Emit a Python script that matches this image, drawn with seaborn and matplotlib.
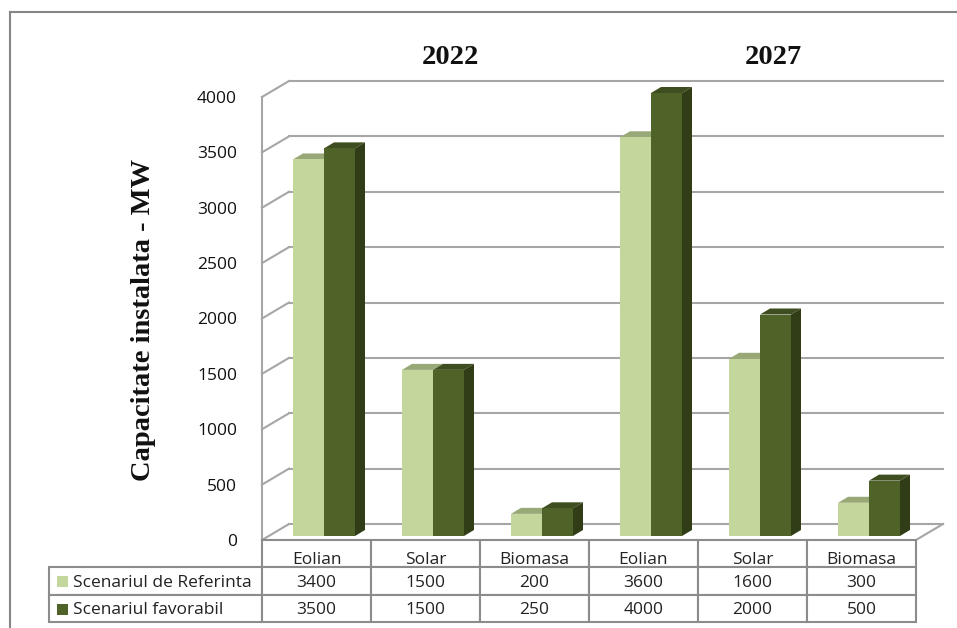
import matplotlib
matplotlib.use("Agg")
import matplotlib.pyplot as plt
import seaborn as sns
import pandas as pd
from matplotlib.patches import Polygon, Rectangle
from matplotlib.lines import Line2D
from matplotlib.transforms import Affine2D

groups = ["2022", "2022", "2022", "2027", "2027", "2027"]
categories = ["Eolian", "Solar", "Biomasa", "Eolian", "Solar", "Biomasa"]
referinta = [3400, 1500, 200, 3600, 1600, 300]
favorabil = [3500, 1500, 250, 4000, 2000, 500]
series_names = ["Scenariul de Referinta", "Scenariul favorabil"]
colors = ["#c3d69b", "#4f6228"]
tops = ["#98a876", "#3f4e20"]
sides = [None, "#313d17"]
ylabel = "Capacitate instalata - MW"
yticks = [0, 500, 1000, 1500, 2000, 2500, 3000, 3500, 4000]

W, H = 957, 628
fig = plt.figure(figsize=(W / 100, H / 100), dpi=100)
L, R, B, T = 262, 916, 540, 97
ax = fig.add_axes([L / W, 1 - B / H, (R - L) / W, (B - T) / H])

df = pd.DataFrame({
    "pos": list(range(6)) * 2,
    "val": referinta + favorabil,
    "ser": [series_names[0]] * 6 + [series_names[1]] * 6,
})
sns.barplot(data=df, x="pos", y="val", hue="ser", palette=colors, width=62 / 109,
            saturation=1, legend=False, ax=ax, zorder=3, dodge=True)
ax.set_xlim(-0.5, 5.5)
ax.set_ylim(0, 4000)

for s in ax.spines.values():
    s.set_visible(False)
ax.patch.set_visible(False)
ax.set_xticks([])
ax.set_xlabel("")
ax.set_ylabel("")
ax.set_yticks(yticks)
ax.set_yticklabels([str(v) for v in yticks], fontsize=12.5, family="Open Sans", color="#111111")
ax.tick_params(axis="y", length=0, pad=18)

GRID = "#a6a6a6"
DX, DY = 27, 16
px_back = ax.transData + Affine2D().translate(DX, DY)
for v in yticks:
    ax.add_line(Line2D([-0.5, 5.5], [v, v], transform=px_back, color=GRID, lw=1.5, clip_on=False, zorder=1))
    # slanted wall segment, from the front edge to the back wall
    p0 = ax.transData.transform((-0.5, v))
    seg = Line2D([p0[0], p0[0] + DX], [p0[1], p0[1] + DY], transform=None, color=GRID, lw=1.5, clip_on=False, zorder=1)
    ax.add_artist(seg)
p0 = ax.transData.transform((-0.5, 0))
p1 = ax.transData.transform((-0.5, 4000))
ax.add_artist(Line2D([p0[0], p1[0]], [p0[1], p1[1]], transform=None, color=GRID, lw=1.5, clip_on=False, zorder=1))
p2 = ax.transData.transform((5.5, 0))
ax.add_artist(Line2D([p2[0], p2[0] + DX], [p2[1], p2[1] + DY], transform=None, color=GRID, lw=1.5, clip_on=False, zorder=1))

# extrude each bar: front face shifted a little into the floor, with top and side faces
SX, SY = 7.5, 4
BDX, BDY = 10, 6
for i, bar in enumerate(ax.patches):
    s = 0 if i < 6 else 1
    x0, y0 = bar.get_x(), bar.get_y()
    x1, y1 = x0 + bar.get_width(), y0 + bar.get_height()
    a = ax.transData.transform((x0, y0)) + (SX, SY)
    b = ax.transData.transform((x1, y1)) + (SX, SY)
    bar.set_transform(ax.transData + Affine2D().translate(SX, SY))
    bar.set_clip_on(False)
    bar.set_zorder(4 + 2 * s + 2 * i / 100)
    top = Polygon([(a[0], b[1]), (b[0], b[1]), (b[0] + BDX, b[1] + BDY), (a[0] + BDX, b[1] + BDY)],
                  closed=True, transform=None, facecolor=tops[s], edgecolor="none", clip_on=False,
                  zorder=3 + 2 * s)
    ax.add_artist(top)
    if sides[s]:
        side = Polygon([(b[0], a[1]), (b[0], b[1]), (b[0] + BDX, b[1] + BDY), (b[0] + BDX, a[1] + BDY)],
                       closed=True, transform=None, facecolor=sides[s], edgecolor="none", clip_on=False,
                       zorder=3 + 2 * s)
        ax.add_artist(side)

# data table beneath the plot
tw, th = R - L, B - T
LEFT_W = 213
cell_text = [[""] * 7,
             [series_names[0]] + [str(v) for v in referinta],
             [series_names[1]] + [str(v) for v in favorabil]]
tbl = ax.table(cellText=cell_text, cellLoc="center", colWidths=[LEFT_W / tw] + [1 / 6] * 6,
               bbox=[-LEFT_W / tw, -82 / th, (LEFT_W + R - L) / tw, 82 / th], zorder=2)
tbl.auto_set_font_size(False)
for (r, c), cell in tbl.get_celld().items():
    cell.set_edgecolor("#8c8c8c")
    cell.set_linewidth(1.5)
    cell.get_text().set_fontsize(12.5)
    cell.get_text().set_family("Open Sans")
    cell.get_text().set_color("#222222")
    cell.get_text().set_verticalalignment("center_baseline")
    if c == 0:
        cell.get_text().set_horizontalalignment("left")
        cell.PAD = 0.113
        if r == 0:
            cell.set_visible(False)

# category names in the table's header row, sitting low in their cells
for i, name in enumerate(categories):
    ax.annotate(name, xy=(i, 0), xycoords="data", xytext=(0, -13), textcoords="offset points",
                ha="center", va="center_baseline", fontsize=12.5, family="Open Sans", color="#222222",
                annotation_clip=False, zorder=6)

for r, col in enumerate(colors):
    yc = 1 - ((581 + 28 * r) - T) / th
    ax.add_patch(Rectangle((-(262 - 57) / tw, yc - 5.5 / th), 11 / tw, 11 / th, transform=ax.transAxes,
                           facecolor=col, edgecolor="none", clip_on=False, zorder=6))

# titles
fig.text(450 / W, 1 - 58 / H, groups[0], family="Liberation Serif", weight="bold", fontsize=20.5,
         ha="center", va="center", color="#111111")
fig.text(773 / W, 1 - 58 / H, groups[3], family="Liberation Serif", weight="bold", fontsize=20.5,
         ha="center", va="center", color="#111111")
fig.text(143 / W, 1 - 320 / H, ylabel, family="Liberation Serif", weight="bold", fontsize=20.5,
         rotation=90, ha="center", va="center", color="#111111")

# outer chart frame
fig.add_artist(Line2D([10 / W, 10 / W], [0, 1 - 12 / H], color="#868686", lw=1.5))
fig.add_artist(Line2D([10 / W, 1], [1 - 12 / H, 1 - 12 / H], color="#868686", lw=1.5))

fig.savefig("out.png", dpi=100, facecolor="white")
